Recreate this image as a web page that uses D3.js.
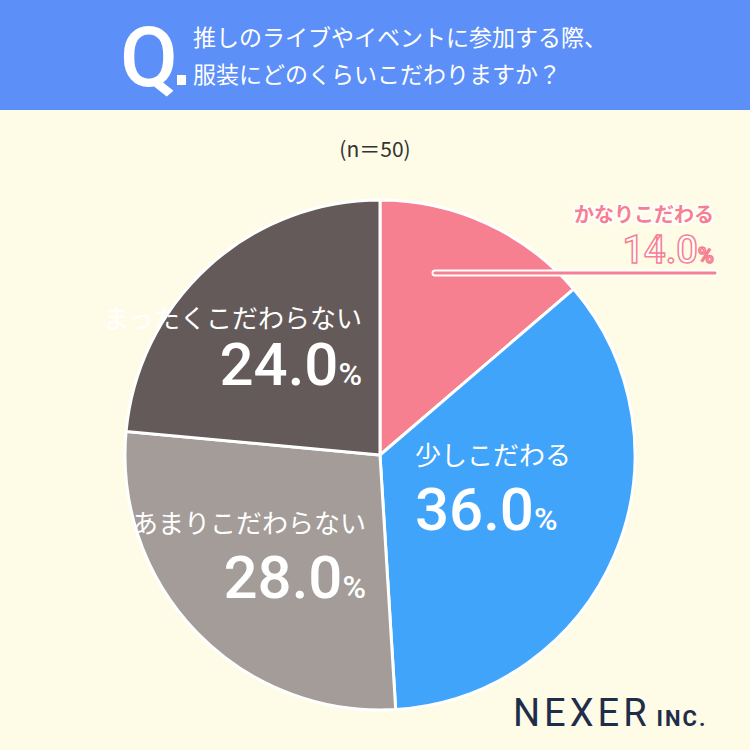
<!DOCTYPE html>
<html><head><meta charset="utf-8">
<script src="https://cdn.jsdelivr.net/npm/d3@7"></script>
<style>body{margin:0;background:#fefce6;} text{font-family:"Noto Sans CJK JP","Noto Sans",sans-serif;}</style>
</head><body>
<svg id="c" width="750" height="750"></svg>
<script>
var categories = ["かなりこだわる", "少しこだわる", "あまりこだわらない", "まったくこだわらない"];
var values = [14.0, 36.0, 28.0, 24.0];
var colors = ["#f6808f", "#41a4fb", "#a39c98", "#645a59"];

var svg = d3.select("#c");
svg.append("rect").attr("width", 750).attr("height", 750).attr("fill", "#fefce6");
svg.append("rect").attr("width", 750).attr("height", 110).attr("fill", "#5c8ff7");
svg.append("text").attr("x", 120).attr("y", 86).attr("fill", "#fff")
    .style("font-size", "84px").style("font-weight", "500").style("font-family", "Roboto").text("Q");
svg.append("rect").attr("x", 177).attr("y", 75).attr("width", 9).attr("height", 10).attr("fill", "#fff");
svg.append("text").attr("x", 193).attr("y", 46).attr("fill", "#fff").style("font-size", "23px").text("推しのライブやイベントに参加する際、");
svg.append("text").attr("x", 193).attr("y", 83).attr("fill", "#fff").style("font-size", "23px").text("服装にどのくらいこだわりますか？");
svg.append("text").attr("x", 375).attr("y", 157).attr("text-anchor", "middle").attr("fill", "#333")
    .style("font-size", "21px").text("(n＝50)");

var cx = 380, cy = 455, r = 255;
var g = svg.append("g").attr("transform", "translate(" + cx + "," + cy + ")");
var pie = d3.pie().sort(null).value(function (d) { return d; });
var arc = d3.arc().innerRadius(0).outerRadius(r);
var arcs = pie(values);
g.selectAll("path").data(arcs).enter().append("path")
    .attr("d", arc)
    .attr("fill", function (d, i) { return colors[i]; })
    .attr("stroke", "#fff").attr("stroke-width", 3);

// labels for the three big slices: [x, nameY, valueY, anchor]
var labelPos = [null, [415, 465, 530, "start"], [366, 533, 598, "end"], [362, 328, 385, "end"]];
arcs.forEach(function (d, i) {
    if (!labelPos[i]) return;
    var p = labelPos[i];
    svg.append("text").attr("x", p[0]).attr("y", p[1]).attr("text-anchor", p[3])
        .attr("fill", "#fff").style("font-size", "26px").text(categories[i]);
    var t = svg.append("text").attr("x", p[0]).attr("y", p[2]).attr("text-anchor", p[3])
        .attr("fill", "#fff").style("font-family", "Roboto").style("font-weight", "500");
    t.append("tspan").style("font-size", "60px").text(values[i].toFixed(1));
    t.append("tspan").style("font-size", "32px").text("%");
});

// leader + label for the small slice
svg.append("line").attr("x1", 435).attr("x2", 715).attr("y1", 273).attr("y2", 273)
    .attr("stroke", "#fff").attr("stroke-width", 7).attr("stroke-linecap", "round");
svg.append("line").attr("x1", 435).attr("x2", 715).attr("y1", 273).attr("y2", 273)
    .attr("stroke", colors[0]).attr("stroke-width", 3).attr("stroke-linecap", "round");
svg.append("text").attr("x", 714).attr("y", 222).attr("text-anchor", "end")
    .attr("fill", colors[0]).attr("stroke", "#fff").attr("stroke-width", 4).attr("paint-order", "stroke")
    .style("font-size", "20px").style("font-weight", "bold").text(categories[0]);
var t0 = svg.append("text").attr("x", 714).attr("y", 263).attr("text-anchor", "end")
    .attr("fill", "#fff").attr("stroke", colors[0]).attr("stroke-width", 1.5)
    .style("font-family", "Roboto").style("font-weight", "500");
t0.append("tspan").style("font-size", "38px").text(values[0].toFixed(1));
t0.append("tspan").style("font-size", "22px").text("%");

// logo
var logo = svg.append("text").attr("x", 513).attr("y", 726).attr("fill", "#1f2d4a").style("font-family", "Roboto");
logo.append("tspan").style("font-size", "38px").style("letter-spacing", "4px").text("NEXER");
logo.append("tspan").attr("dx", 6).style("font-size", "22px").style("font-weight", "bold").style("letter-spacing", "2px").text("INC.");
</script>
</body></html>
